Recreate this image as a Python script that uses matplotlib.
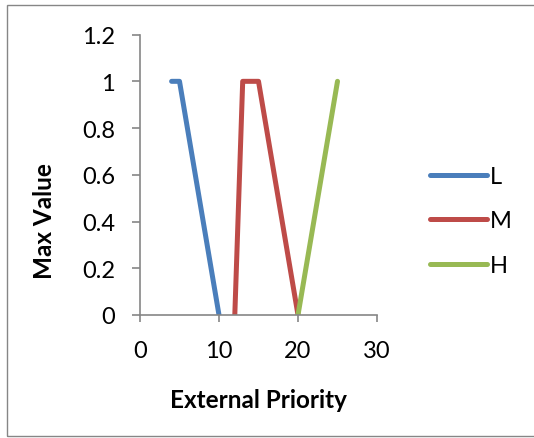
import matplotlib.pyplot as plt
from matplotlib.patches import Rectangle

# Data
low_x = [4, 5, 10]
low_y = [1, 1, 0]
mid_x = [12, 13, 15, 20]
mid_y = [0, 1, 1, 0]
high_x = [20, 25]
high_y = [0, 1]

x_ticks = [0, 10, 20, 30]
y_ticks = [0, 0.2, 0.4, 0.6, 0.8, 1.0, 1.2]

plt.rcParams['font.family'] = ['Lato', 'DejaVu Sans']
gray = '#868686'

fig = plt.figure(figsize=(5.34, 4.39), dpi=100)
ax = fig.add_axes([140 / 534, 1 - 316 / 439, 237 / 534, 280.4 / 439])

# Outer chart border (right edge runs off the image)
fig.patches.append(Rectangle((7 / 534, 2 / 439), 1.0, 431 / 439,
                             transform=fig.transFigure, fill=False,
                             edgecolor=gray, linewidth=1.0))

lw = 3.6
ax.plot(low_x, low_y, color='#4A7EBB', lw=lw, solid_capstyle='round', solid_joinstyle='round', label='L')
ax.plot(mid_x, mid_y, color='#BE4B48', lw=lw, solid_capstyle='round', solid_joinstyle='round', label='M')
ax.plot(high_x, high_y, color='#98B954', lw=lw, solid_capstyle='round', solid_joinstyle='round', label='H')

ax.set_xlim(0, 30)
ax.set_ylim(0, 1.2)
ax.set_xticks(x_ticks)
ax.set_yticks(y_ticks)
ax.set_xticklabels([f"{v:g}" for v in x_ticks])
ax.set_yticklabels([f"{v:g}" for v in y_ticks])

for side in ['top', 'right']:
    ax.spines[side].set_visible(False)
for side in ['left', 'bottom']:
    ax.spines[side].set_color(gray)
    ax.spines[side].set_linewidth(1.2)

ax.tick_params(axis='y', direction='out', length=6, width=1.2, color=gray, labelsize=17, pad=12)
ax.tick_params(axis='x', direction='out', length=5, width=1.2, color=gray, labelsize=17, pad=13)

ax.set_xlabel('External Priority', fontsize=17.5, fontweight='bold', va='center')
ax.set_ylabel('Max Value', fontsize=17.5, fontweight='bold', va='center')
ax.xaxis.set_label_coords(0.5, -0.30)
ax.yaxis.set_label_coords(-0.405, 0.339)

ax.legend(loc='center left', bbox_to_anchor=(430 / 534, 1 - 222 / 439),
          bbox_transform=fig.transFigure, frameon=False, fontsize=17,
          handlelength=2.4, handletextpad=0.12, labelspacing=1.0,
          borderpad=0, borderaxespad=0)

fig.savefig('out.png', dpi=100)
